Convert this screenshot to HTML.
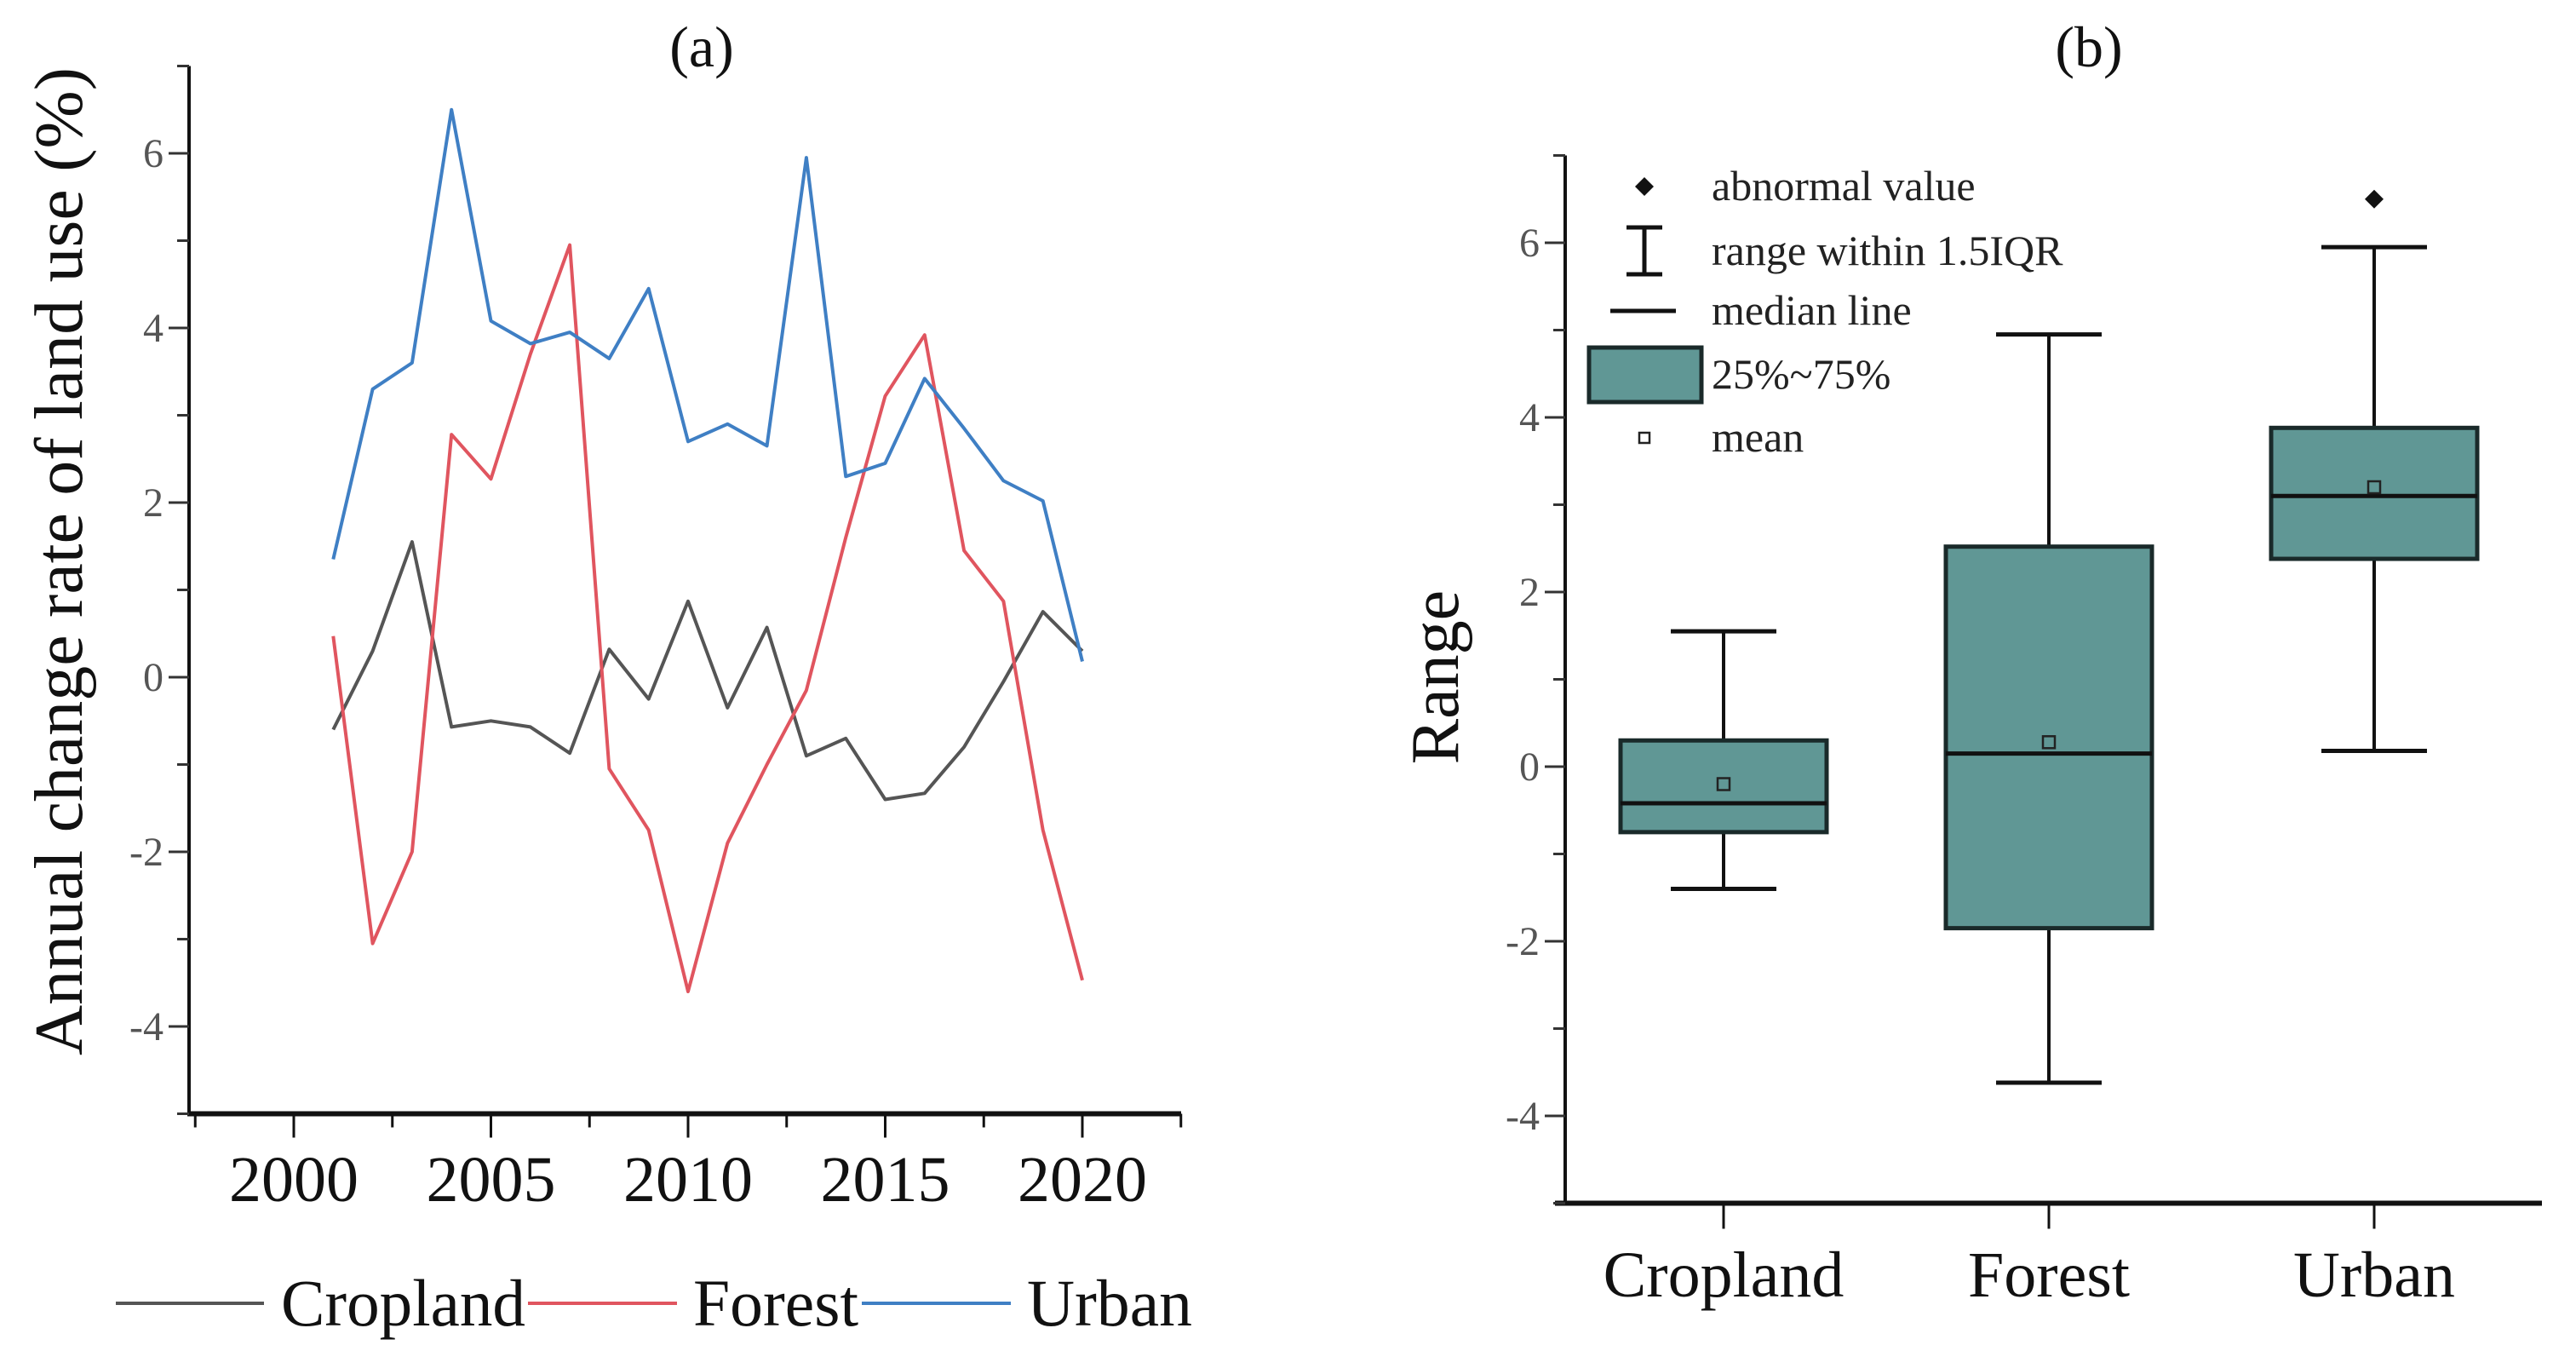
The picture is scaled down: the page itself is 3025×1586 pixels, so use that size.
<!DOCTYPE html>
<html><head><meta charset="utf-8"><style>
html,body{margin:0;padding:0;background:#fff;}
svg{display:block;font-family:"Liberation Serif",serif;}
</style></head><body>
<svg id="fig" width="3025" height="1586" viewBox="0 0 3025 1586" xmlns="http://www.w3.org/2000/svg">
<g id="pa"></g>
<g id="pb"></g>
</svg>
<script>
const years = [2001,2002,2003,2004,2005,2006,2007,2008,2009,2010,2011,2012,2013,2014,2015,2016,2017,2018,2019,2020];
const cropland = [-0.6,0.3,1.55,-0.57,-0.5,-0.57,-0.87,0.32,-0.25,0.87,-0.35,0.57,-0.9,-0.7,-1.4,-1.33,-0.8,-0.05,0.75,0.3];
const forest = [0.47,-3.05,-2.0,2.78,2.27,3.7,4.95,-1.05,-1.75,-3.6,-1.9,-1.0,-0.15,1.6,3.22,3.92,1.45,0.87,-1.75,-3.47];
const urban = [1.35,3.3,3.6,6.5,4.08,3.82,3.95,3.65,4.45,2.7,2.9,2.65,5.95,2.3,2.45,3.42,2.85,2.25,2.02,0.18];
const seriesNames = ["Cropland","Forest","Urban"];
const xTicks = [2000,2005,2010,2015,2020];
const yTicksA = [-4,-2,0,2,4,6];
const categories = ["Cropland","Forest","Urban"];
const whiskerLow = [-1.4,-3.62,0.18];
const whiskerHigh = [1.55,4.95,5.95];
const q1 = [-0.75,-1.85,2.38];
const q3 = [0.3,2.52,3.88];
const medians = [-0.42,0.15,3.1];
const means = [-0.2,0.28,3.2];
const outliers = [null,null,6.5];
const yTicksB = [-4,-2,0,2,4,6];

const NS="http://www.w3.org/2000/svg";
function mk(parent,tag,attrs,text){const e=document.createElementNS(NS,tag);for(const k in attrs)e.setAttribute(k,attrs[k]);if(text!==undefined)e.textContent=text;parent.appendChild(e);return e;}

// Panel A
const pa=document.getElementById('pa');
const ax=y=>345+(y-2000)*46.3;
const ay=v=>795-v*102.5;
let e;
e=mk(pa,'line',{x1:222,y1:ay(7),x2:222,y2:ay(-5)+2,stroke:'#111','stroke-width':4});


e=mk(pa,'line',{x1:220,y1:ay(-5),x2:1387,y2:ay(-5),stroke:'#111','stroke-width':6});


for(let v=-5;v<=7;v++){
  const major=(v%2===0);
  e=mk(pa,'line',{x1:222-(major?24:14),y1:ay(v),x2:222,y2:ay(v),stroke:'#333','stroke-width':3});
  
  
}
yTicksA.forEach(v=>{
  e=mk(pa,'text',{x:192,y:ay(v)+16,'text-anchor':'end','font-size':48,fill:'#555'},String(v));
  
  
});
for(let y=1997.5;y<=2022.6;y+=2.5){
  const major=Math.abs(y%5)<0.01;
  e=mk(pa,'line',{x1:ax(y),y1:ay(-5),x2:ax(y),y2:ay(-5)+(major?28:16),stroke:'#111','stroke-width':3});
  
  
}
xTicks.forEach(y=>{
  e=mk(pa,'text',{x:ax(y),y:1410,'text-anchor':'middle','font-size':76,fill:'#111'},String(y));
  
  
});
e=mk(pa,'text',{x:0,y:0,'text-anchor':'middle','font-size':80,fill:'#111',transform:'translate(96,659) rotate(-90)',textLength:1160,lengthAdjust:'spacingAndGlyphs'},'Annual change rate of land use (%)');


e=mk(pa,'text',{x:824,y:78,'text-anchor':'middle','font-size':68,fill:'#111'},'(a)');


const colors=['#555555','#e0555f','#3f7fc4'];
[cropland,forest,urban].forEach((arr,i)=>{
  const pts=arr.map((v,j)=>ax(years[j]).toFixed(1)+','+ay(v).toFixed(1)).join(' ');
  e=mk(pa,'polyline',{points:pts,fill:'none',stroke:colors[i],'stroke-width':4,'stroke-linejoin':'round'});
  
  
});
// legend a: [lineStart, lineEnd, textStart, textWidth]
const legX=[[136,310,330,287],[620,795,814,194],[1012,1187,1206,194]];
seriesNames.forEach((n,i)=>{
  e=mk(pa,'line',{x1:legX[i][0],y1:1530,x2:legX[i][1],y2:1530,stroke:colors[i],'stroke-width':4});
  
  
  e=mk(pa,'text',{x:legX[i][2],y:1556,'font-size':78,fill:'#111',textLength:legX[i][3],lengthAdjust:'spacingAndGlyphs'},n);
  
  
});

// Panel B
const pb=document.getElementById('pb');
const bx=[2024,2406,2788];
const by=v=>900-v*102.5;
e=mk(pb,'line',{x1:1838,y1:by(7),x2:1838,y2:by(-5)+2,stroke:'#111','stroke-width':4});


e=mk(pb,'line',{x1:1826,y1:by(-5),x2:2985,y2:by(-5),stroke:'#111','stroke-width':6});


for(let v=-5;v<=7;v++){
  const major=(v%2===0);
  e=mk(pb,'line',{x1:1838-(major?24:14),y1:by(v),x2:1838,y2:by(v),stroke:'#333','stroke-width':3});
  
  
}
yTicksB.forEach(v=>{
  e=mk(pb,'text',{x:1808,y:by(v)+16,'text-anchor':'end','font-size':48,fill:'#555'},String(v));
  
  
});
e=mk(pb,'text',{x:0,y:0,'text-anchor':'middle','font-size':80,fill:'#111',transform:'translate(1712,795) rotate(-90)'},'Range');


e=mk(pb,'text',{x:2453,y:78,'text-anchor':'middle','font-size':68,fill:'#111'},'(b)');


const boxW=242, capW=124;
categories.forEach((c,i)=>{
  const x=bx[i], k=c.toLowerCase();
  e=mk(pb,'line',{x1:x,y1:by(-5),x2:x,y2:by(-5)+30,stroke:'#111','stroke-width':3});
  
  
  e=mk(pb,'text',{x:x,y:1522,'text-anchor':'middle','font-size':76,fill:'#111'},c);
  
  
  e=mk(pb,'line',{x1:x,y1:by(whiskerLow[i]),x2:x,y2:by(whiskerHigh[i]),stroke:'#111','stroke-width':4});
  
  
  e=mk(pb,'line',{x1:x-capW/2,y1:by(whiskerHigh[i]),x2:x+capW/2,y2:by(whiskerHigh[i]),stroke:'#111','stroke-width':5});
  
  
  e=mk(pb,'line',{x1:x-capW/2,y1:by(whiskerLow[i]),x2:x+capW/2,y2:by(whiskerLow[i]),stroke:'#111','stroke-width':5});
  
  
  e=mk(pb,'rect',{x:x-boxW/2,y:by(q3[i]),width:boxW,height:by(q1[i])-by(q3[i]),fill:'#609795',stroke:'#1a2a2a','stroke-width':5});
  
  
  e=mk(pb,'line',{x1:x-boxW/2,y1:by(medians[i]),x2:x+boxW/2,y2:by(medians[i]),stroke:'#111','stroke-width':5});
  
  
  e=mk(pb,'rect',{x:x-7,y:by(means[i])-7,width:14,height:14,fill:'none',stroke:'#222','stroke-width':2.5});
  
  
  if(outliers[i]!==null){
    const oy=by(outliers[i]);
    e=mk(pb,'path',{d:`M${x} ${oy-11} L${x+11} ${oy} L${x} ${oy+11} L${x-11} ${oy} Z`,fill:'#111'});
    
    
  }
});
// legend b
const lg=mk(pb,'g',{});


e=mk(lg,'path',{d:'M1931 208 L1942 219 L1931 230 L1920 219 Z',fill:'#111'});


e=mk(lg,'path',{d:'M1910 267 H1952 M1931 267 V322 M1910 322 H1952',stroke:'#111','stroke-width':5,fill:'none'});


e=mk(lg,'line',{x1:1891,y1:365,x2:1968,y2:365,stroke:'#111','stroke-width':5});


e=mk(lg,'rect',{x:1866,y:408,width:132,height:64,fill:'#609795',stroke:'#1a2a2a','stroke-width':5});


e=mk(lg,'rect',{x:1925,y:508,width:12,height:12,fill:'none',stroke:'#222','stroke-width':2.5});


const legText=['abnormal value','range within 1.5IQR','median line','25%~75%','mean'];
const legY=[219,295,365,440,514];
legText.forEach((t,i)=>{
  e=mk(lg,'text',{x:2010,y:legY[i]+16,'font-size':50,fill:'#222'},t);
  
  
});
</script>
</body></html>
